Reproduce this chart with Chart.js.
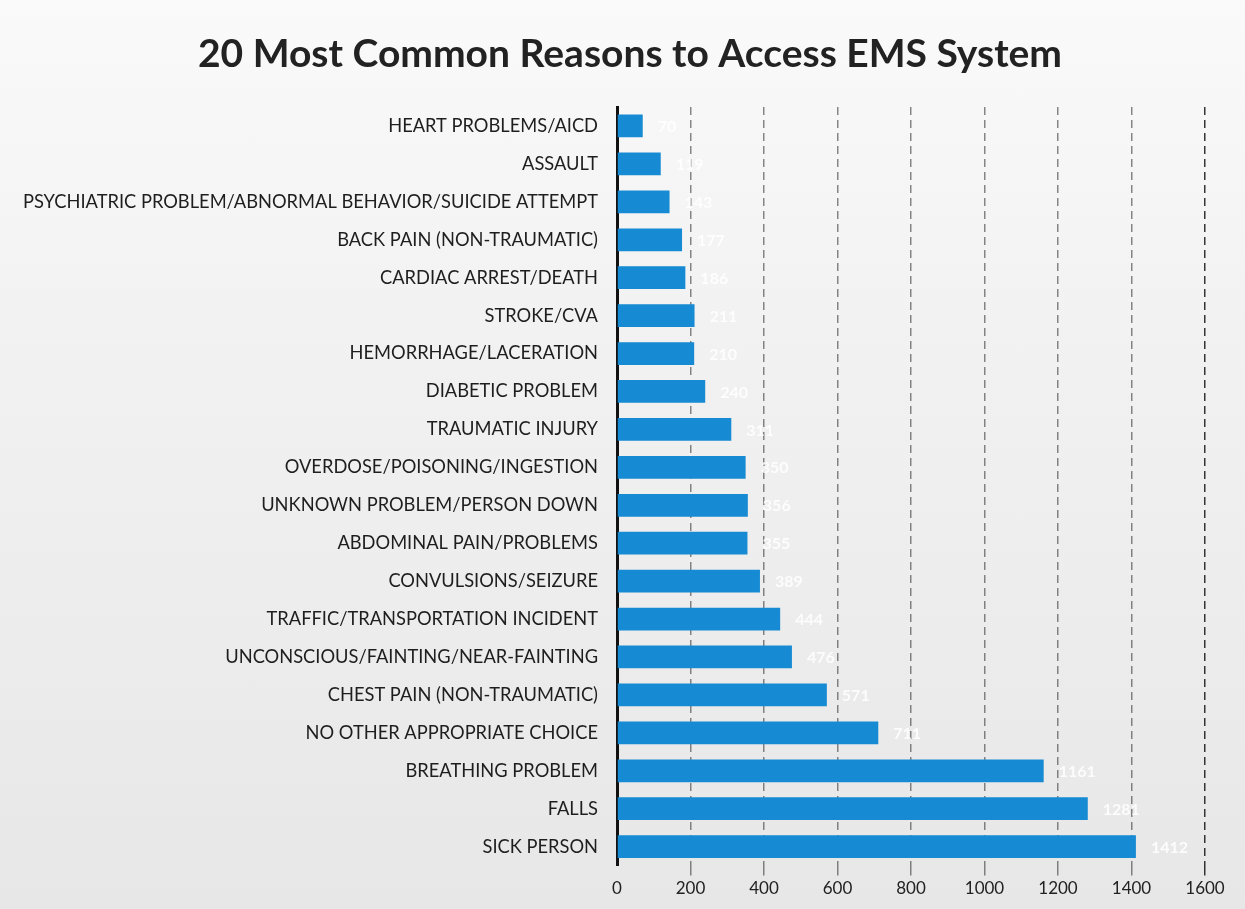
<!DOCTYPE html>
<html>
<head>
<meta charset="utf-8">
<script src="https://cdn.jsdelivr.net/npm/chart.js@4/dist/chart.umd.min.js"></script>
<style>
  html, body { margin: 0; padding: 0; }
  body { width: 1245px; height: 909px; background: linear-gradient(to bottom, #fafafa 0%, #f2f2f2 35%, #e7e7e7 100%); overflow: hidden; }
  #wrap { position: absolute; left: 0; top: 0; width: 1245px; height: 909px; }
</style>
</head>
<body>
<div id="wrap"><canvas id="c" width="1245" height="909"></canvas></div>
<script>
const chartTitle = "20 Most Common Reasons to Access EMS System";
const categories = [
  "HEART PROBLEMS/AICD",
  "ASSAULT",
  "PSYCHIATRIC PROBLEM/ABNORMAL BEHAVIOR/SUICIDE ATTEMPT",
  "BACK PAIN (NON-TRAUMATIC)",
  "CARDIAC ARREST/DEATH",
  "STROKE/CVA",
  "HEMORRHAGE/LACERATION",
  "DIABETIC PROBLEM",
  "TRAUMATIC INJURY",
  "OVERDOSE/POISONING/INGESTION",
  "UNKNOWN PROBLEM/PERSON DOWN",
  "ABDOMINAL PAIN/PROBLEMS",
  "CONVULSIONS/SEIZURE",
  "TRAFFIC/TRANSPORTATION INCIDENT",
  "UNCONSCIOUS/FAINTING/NEAR-FAINTING",
  "CHEST PAIN (NON-TRAUMATIC)",
  "NO OTHER APPROPRIATE CHOICE",
  "BREATHING PROBLEM",
  "FALLS",
  "SICK PERSON"
];
const callCounts = [70, 119, 143, 177, 186, 211, 210, 240, 311, 350, 356, 355, 389, 444, 476, 571, 711, 1161, 1281, 1412];
const xTickMin = 0;
const xTickMax = 1600;
const xTickStep = 200;

const FONT = "Lato, 'Open Sans', sans-serif";

const valueLabels = {
  id: 'valueLabels',
  afterDatasetsDraw(chart) {
    const ctx = chart.ctx;
    const meta = chart.getDatasetMeta(0);
    ctx.save();
    ctx.font = "bold 16px " + FONT;
    ctx.fillStyle = "rgba(255,255,255,0.85)";
    ctx.textAlign = "left";
    ctx.textBaseline = "middle";
    meta.data.forEach((el, i) => {
      ctx.fillText(String(callCounts[i]), el.x + 15, el.y + 1);
    });
    ctx.restore();
  }
};

const offsetTitle = {
  id: 'offsetTitle',
  afterDraw(chart) {
    const ctx = chart.ctx;
    ctx.save();
    ctx.font = "bold 39px " + FONT;
    ctx.fillStyle = "#222222";
    ctx.textAlign = "center";
    ctx.textBaseline = "middle";
    ctx.fillText(chartTitle, 630, 54);
    ctx.restore();
  }
};

new Chart(document.getElementById('c'), {
  type: 'bar',
  data: {
    labels: categories,
    datasets: [{
      data: callCounts,
      backgroundColor: '#168ad2',
      borderWidth: 0,
      categoryPercentage: 0.6,
      barPercentage: 1.0
    }]
  },
  options: {
    indexAxis: 'y',
    responsive: false,
    animation: false,
    layout: { padding: { left: 0, right: 40, top: 107, bottom: 7 } },
    plugins: {
      legend: { display: false },
      tooltip: { enabled: false },
      title: { display: false }
    },
    scales: {
      x: {
        min: xTickMin,
        max: xTickMax,
        ticks: {
          stepSize: xTickStep,
          color: '#222222',
          font: { family: FONT, size: 17 },
          padding: 3,
          callback: (v) => String(v)
        },
        grid: {
          color: (c) => c.tick && c.tick.value === 0 ? 'rgba(0,0,0,0)' : (c.tick && c.tick.value === 1600 ? 'rgba(20,20,20,0.85)' : 'rgba(40,40,40,0.55)'),
          lineWidth: 1.5,
          tickLength: 10,
          drawOnChartArea: true,
          drawTicks: true
        },
        border: { display: false, dash: [8, 5] }
      },
      y: {
        afterFit: (s) => { s.width = 617; },
        ticks: {
          color: '#1e1e1e',
          font: { family: FONT, size: 18.3 },
          padding: 19,
          autoSkip: false
        },
        grid: { display: false, drawTicks: false },
        border: { display: true, color: '#111111', width: 3 }
      }
    }
  },
  plugins: [valueLabels, offsetTitle]
});
</script>
</body>
</html>
